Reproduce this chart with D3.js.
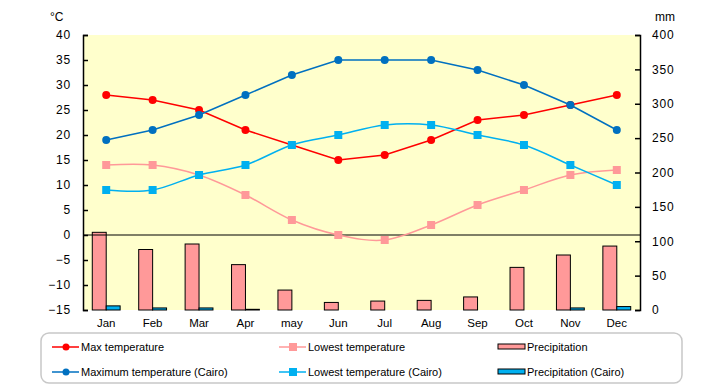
<!DOCTYPE html>
<html lang="en">
<head>
<meta charset="UTF-8" />
<title>Temperature and precipitation</title>
<script src="https://d3js.org/d3.v7.min.js"></script>
<style>
  body { margin: 0; background: #fff; }
  svg text { font-family: "Liberation Sans", Arial, sans-serif; fill: #000; }
</style>
</head>
<body>
<div id="chart"></div>
<script>
  // data
  const months = ["Jan", "Feb", "Mar", "Apr", "may", "Jun", "Jul", "Aug", "Sep", "Oct", "Nov", "Dec"];
  const maxTemp = [28, 27, 25, 21, 18, 15, 16, 19, 23, 24, 26, 28];
  const lowTemp = [14, 14, 12, 8, 3, 0, -1, 2, 6, 9, 12, 13];
  const maxCairo = [19, 21, 24, 28, 32, 35, 35, 35, 33, 30, 26, 21];
  const lowCairo = [9, 9, 12, 14, 18, 20, 22, 22, 20, 18, 14, 10];
  const precip = [113, 88, 96, 66, 29, 11, 13, 14, 19, 62, 80, 93];
  const precipCairo = [6, 3, 3, 1, 0, 0, 0, 0, 0, 0, 3, 5];
  const leftTicks = [40, 35, 30, 25, 20, 15, 10, 5, 0, -5, -10, -15];
  const rightTicks = [0, 50, 100, 150, 200, 250, 300, 350, 400];

  const width = 720, height = 385;
  const plot = { left: 83, right: 640, top: 35, bottom: 310 };

  const svg = d3.select("#chart").append("svg")
    .attr("width", width)
    .attr("height", height);

  const x = d3.scaleBand().domain(months).range([plot.left, plot.right]);
  const yL = d3.scaleLinear().domain([-15, 40]).range([plot.bottom, plot.top]);
  const yR = d3.scaleLinear().domain([0, 400]).range([plot.bottom, plot.top]);
  const cx = m => x(m) + x.bandwidth() / 2;
  const barW = x.bandwidth() * 0.3;

  // plot background
  svg.append("rect")
    .attr("x", plot.left).attr("y", plot.top)
    .attr("width", plot.right - plot.left).attr("height", plot.bottom - plot.top)
    .attr("fill", "#ffffcc");

  // bars
  svg.selectAll(".bar1").data(months).enter().append("rect")
    .attr("x", m => cx(m) - barW)
    .attr("y", (m, i) => yR(precip[i]))
    .attr("width", barW)
    .attr("height", (m, i) => yR(0) - yR(precip[i]))
    .attr("fill", "#ff9999").attr("stroke", "#000").attr("stroke-width", 1);

  svg.selectAll(".bar2").data(months.filter((m, i) => precipCairo[i] > 0)).enter().append("rect")
    .attr("x", m => cx(m))
    .attr("y", m => yR(precipCairo[months.indexOf(m)]))
    .attr("width", barW)
    .attr("height", m => yR(0) - yR(precipCairo[months.indexOf(m)]))
    .attr("fill", "#00b0f0").attr("stroke", "#000").attr("stroke-width", 1);

  // zero line
  svg.append("line")
    .attr("x1", plot.left).attr("x2", plot.right)
    .attr("y1", yL(0)).attr("y2", yL(0))
    .attr("stroke", "#000").attr("stroke-width", 1.2);

  // axes
  const leftAxis = d3.axisLeft(yL).tickValues(leftTicks).tickSize(-5).tickPadding(12);
  const gl = svg.append("g").attr("transform", `translate(${plot.left},0)`).call(leftAxis);
  const rightAxis = d3.axisRight(yR).tickValues(rightTicks).tickSize(-5).tickPadding(12);
  const gr = svg.append("g").attr("transform", `translate(${plot.right},0)`).call(rightAxis);
  [gl, gr].forEach(g => {
    g.select(".domain").attr("stroke", "#000").attr("stroke-width", 1.5);
    g.selectAll(".tick line").attr("stroke", "#000").attr("stroke-width", 1.5);
    g.selectAll(".tick text")
      .style("font-family", "'Liberation Sans', Arial, sans-serif")
      .style("font-size", "12px").style("letter-spacing", "0.8px");
  });

  // month labels
  svg.selectAll(".mlab").data(months).enter().append("text")
    .attr("x", m => cx(m)).attr("y", 327)
    .attr("text-anchor", "middle")
    .style("font-size", "11.5px")
    .text(m => m);

  // units
  svg.append("text").attr("x", 50).attr("y", 21).style("font-size", "12px").text("°C");
  svg.append("text").attr("x", 655).attr("y", 21).style("font-size", "12px").text("mm");

  // lines
  const series = [
    { vals: maxTemp, color: "#ff0000", marker: "circle", curve: d3.curveLinear },
    { vals: lowTemp, color: "#ff9999", marker: "square", curve: d3.curveCatmullRom.alpha(0) },
    { vals: maxCairo, color: "#0070c0", marker: "circle", curve: d3.curveLinear },
    { vals: lowCairo, color: "#00b0f0", marker: "square", curve: d3.curveCatmullRom.alpha(0) }
  ];

  series.forEach(s => {
    const line = d3.line().x((d, i) => cx(months[i])).y(d => yL(d)).curve(s.curve);
    svg.append("path").datum(s.vals)
      .attr("d", line).attr("fill", "none")
      .attr("stroke", s.color).attr("stroke-width", 1.5);
    if (s.marker === "circle") {
      svg.selectAll(null).data(s.vals).enter().append("circle")
        .attr("cx", (d, i) => cx(months[i])).attr("cy", d => yL(d))
        .attr("r", 4).attr("fill", s.color);
    } else {
      svg.selectAll(null).data(s.vals).enter().append("rect")
        .attr("x", (d, i) => cx(months[i]) - 4).attr("y", d => yL(d) - 4)
        .attr("width", 8).attr("height", 8).attr("fill", s.color);
    }
  });

  // legend
  svg.append("rect")
    .attr("x", 41).attr("y", 333).attr("width", 641).attr("height", 50)
    .attr("rx", 8).attr("fill", "#fff")
    .attr("stroke", "#c8c8c8").attr("stroke-width", 1.5);

  const legend = [
    { label: "Max temperature", color: "#ff0000", type: "circle", x: 52, y: 347 },
    { label: "Maximum temperature (Cairo)", color: "#0070c0", type: "circle", x: 52, y: 372 },
    { label: "Lowest temperature", color: "#ff9999", type: "square", x: 279, y: 347 },
    { label: "Lowest temperature (Cairo)", color: "#00b0f0", type: "square", x: 279, y: 372 },
    { label: "Precipitation", color: "#ff9999", type: "bar", x: 498, y: 347 },
    { label: "Precipitation (Cairo)", color: "#00b0f0", type: "bar", x: 498, y: 372 }
  ];

  legend.forEach(l => {
    const g = svg.append("g");
    if (l.type === "bar") {
      g.append("rect").attr("x", l.x).attr("y", l.y - 3).attr("width", 27).attr("height", 5)
        .attr("fill", l.color).attr("stroke", "#000").attr("stroke-width", 1);
    } else {
      g.append("line").attr("x1", l.x).attr("x2", l.x + 27).attr("y1", l.y).attr("y2", l.y)
        .attr("stroke", l.color).attr("stroke-width", 1.5);
      if (l.type === "circle") {
        g.append("circle").attr("cx", l.x + 14).attr("cy", l.y).attr("r", 3.5).attr("fill", l.color);
      } else {
        g.append("rect").attr("x", l.x + 10).attr("y", l.y - 4).attr("width", 8).attr("height", 8).attr("fill", l.color);
      }
    }
    g.append("text").attr("x", l.x + 29).attr("y", l.y + 4)
      .style("font-size", "11px").text(l.label);
  });
</script>
</body>
</html>
